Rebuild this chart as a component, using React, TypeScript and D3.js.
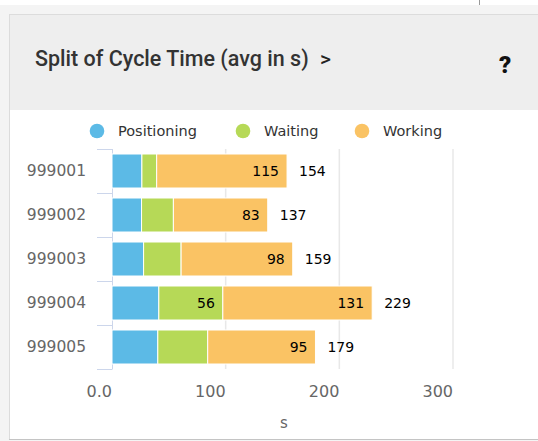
import React, { useEffect, useRef } from 'react';
import * as d3 from 'd3';

const categories = ['999001', '999002', '999003', '999004', '999005'];
const seriesNames = ['Positioning', 'Waiting', 'Working'];
const seriesColors = ['#5cbae6', '#b6d957', '#fac364'];
const positioning = [26.3, 26, 27.8, 41.2, 40.3];
const waiting = [13, 28, 33, 56.3, 43.9];
const working = [114.7, 83, 98.2, 131.4, 94.8];
const xTicks = [0, 100, 200, 300];
const xTickLabels = ['0.0', '100', '200', '300'];

const W = 538;
const H = 441;
const FONT = '"DejaVu Sans", Verdana, sans-serif';

const App: React.FC = () => {
  const svgRef = useRef<SVGSVGElement>(null);

  useEffect(() => {
    if (!svgRef.current) return;
    const svg = d3.select(svgRef.current);
    svg.selectAll('*').remove();

    // page + card background
    svg.append('rect').attr('width', W).attr('height', H).attr('fill', '#f4f4f4');
    svg.append('rect').attr('width', W).attr('height', 5).attr('fill', '#ffffff');
    svg.append('line')
      .attr('x1', 479.5).attr('x2', 479.5).attr('y1', 0).attr('y2', 5)
      .attr('stroke', '#999');
    svg.append('rect')
      .attr('x', 9.5).attr('y', 14.5).attr('width', W).attr('height', 425)
      .attr('fill', '#fff').attr('stroke', '#dcdcdc');
    svg.append('rect')
      .attr('x', 10).attr('y', 15).attr('width', W).attr('height', 95)
      .attr('fill', '#eeeeee');
    svg.append('line')
      .attr('x1', 9).attr('x2', W).attr('y1', 439.5).attr('y2', 439.5)
      .attr('stroke', '#c4c4c4');

    // header
    svg.append('text')
      .attr('x', 35).attr('y', 66)
      .attr('font-family', 'Roboto, sans-serif')
      .attr('font-size', '21.5px')
      .attr('font-weight', 500)
      .attr('fill', '#333')
      .text('Split of Cycle Time (avg in s)');
    svg.append('text')
      .attr('x', 320).attr('y', 66)
      .attr('font-family', 'Roboto, sans-serif')
      .attr('font-size', '21px')
      .attr('font-weight', 500)
      .attr('fill', '#222')
      .text('>');
    svg.append('text')
      .attr('x', 505).attr('y', 73)
      .attr('text-anchor', 'middle')
      .attr('font-family', 'Roboto, sans-serif')
      .attr('font-size', '24px')
      .attr('font-weight', 900)
      .attr('fill', '#111')
      .text('?');

    // legend
    const legendX = [97, 243, 362];
    seriesNames.forEach((name, i) => {
      svg.append('circle')
        .attr('cx', legendX[i]).attr('cy', 131).attr('r', 7.3)
        .attr('fill', seriesColors[i]);
      svg.append('text')
        .attr('x', legendX[i] + 21).attr('y', 131)
        .attr('dy', '0.35em')
        .attr('font-family', FONT)
        .attr('font-size', '14.5px')
        .attr('fill', '#333')
        .text(name);
    });

    const x = d3.scaleLinear().domain([0, 300]).range([112, 453]);
    const y = d3.scaleBand().domain(categories).range([149, 369]).padding(0);
    const barInset = 5;

    // grid
    svg.append('g')
      .selectAll('line')
      .data(xTicks.slice(1))
      .enter()
      .append('line')
      .attr('x1', (d) => x(d)).attr('x2', (d) => x(d))
      .attr('y1', 149).attr('y2', 369)
      .attr('stroke', '#e8e8e8')
      .attr('stroke-width', 1.5);

    // category axis
    svg.append('line')
      .attr('x1', 112.5).attr('x2', 112.5).attr('y1', 149).attr('y2', 369)
      .attr('stroke', '#ccd6eb');
    const tickYs = categories.map((c) => y(c) as number).concat([369]);
    svg.append('g')
      .selectAll('line')
      .data(tickYs)
      .enter()
      .append('line')
      .attr('x1', 97).attr('x2', 112.5)
      .attr('y1', (d) => d + 0.5).attr('y2', (d) => d + 0.5)
      .attr('stroke', '#ccd6eb');
    svg.append('g')
      .selectAll('text')
      .data(categories)
      .enter()
      .append('text')
      .attr('x', 86)
      .attr('y', (d) => (y(d) as number) + y.bandwidth() / 2)
      .attr('dy', '0.35em')
      .attr('text-anchor', 'end')
      .attr('font-family', FONT)
      .attr('font-size', '15.5px')
      .attr('fill', '#666')
      .text((d) => d);

    // value axis labels
    svg.append('g')
      .selectAll('text')
      .data(xTicks)
      .enter()
      .append('text')
      .attr('x', (d) => x(d))
      .attr('y', 391)
      .attr('dy', '0.35em')
      .attr('text-anchor', 'end')
      .attr('font-family', FONT)
      .attr('font-size', '16px')
      .attr('fill', '#666')
      .text((d, i) => xTickLabels[i]);
    svg.append('text')
      .attr('x', 284).attr('y', 423)
      .attr('dy', '0.35em')
      .attr('text-anchor', 'middle')
      .attr('font-family', FONT)
      .attr('font-size', '15px')
      .attr('fill', '#666')
      .text('s');

    // stacked bars
    const rows = categories.map((c, i) => ({
      category: c,
      Positioning: positioning[i],
      Waiting: waiting[i],
      Working: working[i],
    }));
    const stacked = d3.stack<any>().keys(seriesNames)(rows);

    stacked.forEach((layer, si) => {
      const g = svg.append('g');
      g.selectAll('rect')
        .data(layer)
        .enter()
        .append('rect')
        .attr('x', (d) => x(d[0]))
        .attr('y', (d) => (y(d.data.category) as number) + barInset)
        .attr('width', (d) => x(d[1]) - x(d[0]))
        .attr('height', y.bandwidth() - 2 * barInset)
        .attr('fill', seriesColors[si])
        .attr('stroke', '#fff')
        .attr('stroke-width', 1);

      g.selectAll('text')
        .data(layer.filter((d) => d[1] - d[0] >= 50))
        .enter()
        .append('text')
        .attr('x', (d) => x(d[1]) - 8)
        .attr('y', (d) => (y(d.data.category) as number) + y.bandwidth() / 2)
        .attr('dy', '0.35em')
        .attr('text-anchor', 'end')
        .attr('font-family', FONT)
        .attr('font-size', '14px')
        .attr('fill', '#000')
        .text((d) => Math.round(d[1] - d[0]));
    });

    // totals
    const top = stacked[stacked.length - 1];
    svg.append('g')
      .selectAll('text')
      .data(top)
      .enter()
      .append('text')
      .attr('x', (d) => x(d[1]) + 12)
      .attr('y', (d) => (y(d.data.category) as number) + y.bandwidth() / 2)
      .attr('dy', '0.35em')
      .attr('font-family', FONT)
      .attr('font-size', '14px')
      .attr('fill', '#000')
      .text((d) => Math.round(d[1]));
  }, []);

  return (
    <svg
      ref={svgRef}
      width={W}
      height={H}
      style={{ position: 'fixed', left: 0, top: 0, display: 'block' }}
    />
  );
};

export default App;
